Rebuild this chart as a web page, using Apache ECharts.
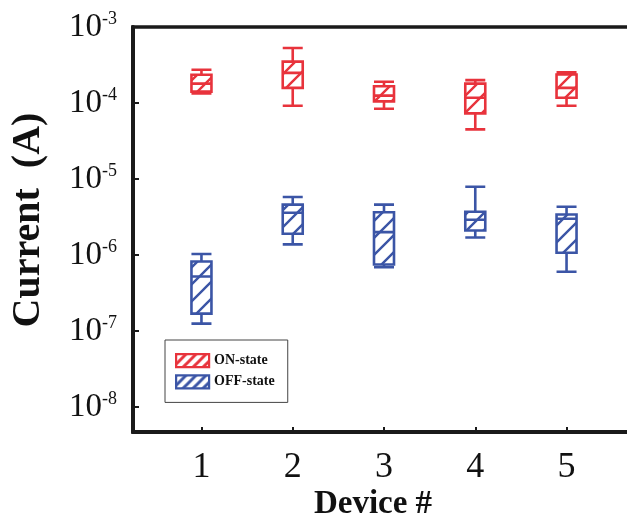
<!DOCTYPE html>
<html><head><meta charset="utf-8">
<script src="https://cdn.jsdelivr.net/npm/echarts@6/dist/echarts.min.js"></script>
<style>html,body{margin:0;padding:0;background:#fff;}#c{width:627px;height:521px;}</style>
</head><body><div id="c"></div>
<script>
// ---- data ----
const devices   = [1, 2, 3, 4, 5];
const onMin     = [1.33e-4, 9.2e-5, 8.4e-5, 4.5e-5, 9.2e-5];
const onQ1      = [1.41e-4, 1.58e-4, 1.05e-4, 7.3e-5, 1.17e-4];
const onMedian  = [1.80e-4, 2.49e-4, 1.25e-4, 1.17e-4, 1.58e-4];
const onQ3      = [2.35e-4, 3.50e-4, 1.66e-4, 1.80e-4, 2.37e-4];
const onMax     = [2.74e-4, 5.30e-4, 1.90e-4, 2.00e-4, 2.54e-4];
const offMin    = [1.25e-7, 1.38e-6, 6.9e-7, 1.7e-6, 6.0e-7];
const offQ1     = [1.69e-7, 1.90e-6, 7.5e-7, 2.1e-6, 1.07e-6];
const offMedian = [5.2e-7, 3.6e-6, 2.0e-6, 2.9e-6, 3.0e-6];
const offQ3     = [8.2e-7, 4.6e-6, 3.65e-6, 3.7e-6, 3.4e-6];
const offMax    = [1.03e-6, 5.8e-6, 4.6e-6, 7.9e-6, 4.3e-6];
const seriesNames = ['ON-state', 'OFF-state'];
const xName = 'Device #';
const yName = 'Current  (A)';

const RED = '#e8333c', BLUE = '#3b55a6', INK = '#1a1a1a';
const SERIF = '"Liberation Serif", "Times New Roman", serif';

function hatch(color, s, w) {
  const c = document.createElement('canvas');
  c.width = s; c.height = s;
  const g = c.getContext('2d');
  g.fillStyle = '#fff'; g.fillRect(0, 0, s, s);
  g.strokeStyle = color; g.lineWidth = w; g.lineCap = 'square';
  g.beginPath();
  g.moveTo(-2, s + 2); g.lineTo(s + 2, -2);
  g.moveTo(-2, 2); g.lineTo(2, -2);
  g.moveTo(s - 2, s + 2); g.lineTo(s + 2, s - 2);
  g.stroke();
  return { image: c, repeat: 'repeat' };
}

const rows = (mn, q1, md, q3, mx) => devices.map((d, i) => [d, mn[i], q1[i], md[i], q3[i], mx[i]]);

const chart = echarts.init(document.getElementById('c'), null, { renderer: 'canvas' });
const xCommon = { type: 'value', min: 0.25, max: 5.75, gridIndex: 0 };
chart.setOption({
  animation: false,
  backgroundColor: '#fff',
  grid: { left: 133, top: 27, right: -8, bottom: 89, show: true, borderColor: INK, borderWidth: 3.5, backgroundColor: 'transparent', outerBoundsMode: 'none', containLabel: false },
  legend: {
    orient: 'vertical', left: 165, top: 340,
    padding: [13, 13, 13, 10], itemGap: 6,
    itemWidth: 33, itemHeight: 13, icon: 'rect',
    borderColor: '#444', borderWidth: 1, backgroundColor: '#fff',
    textStyle: { fontFamily: SERIF, fontWeight: 'bold', fontSize: 14, color: '#111' },
    data: [
      { name: seriesNames[0], icon: 'rect', itemStyle: { color: hatch(RED, 10, 3), borderColor: RED, borderWidth: 2.2 } },
      { name: seriesNames[1], icon: 'rect', itemStyle: { color: hatch(BLUE, 10, 3), borderColor: BLUE, borderWidth: 2.2 } }
    ]
  },
  xAxis: [
    Object.assign({}, xCommon, {
      name: xName, nameLocation: 'middle', nameGap: 56, nameMoveOverlap: false,
      nameTextStyle: { fontFamily: SERIF, fontWeight: 'bold', fontSize: 33, color: '#111', padding: [0, 22, 0, 0] },
      axisLine: { show: true, lineStyle: { color: INK, width: 4 } },
      axisTick: { show: true, inside: true, length: 5, lineStyle: { color: INK, width: 2 } },
      axisLabel: {
        margin: 18, fontFamily: SERIF, fontSize: 36, color: '#111',
        formatter: v => (Math.abs(v - Math.round(v)) < 1e-6 ? String(Math.round(v)) : '')
      },
      splitLine: { show: false }
    }),
    Object.assign({}, xCommon, { show: false, splitLine: { show: false } })
  ],
  yAxis: {
    type: 'log', logBase: 10, min: Math.pow(10, -8.33), max: 1e-3,
    name: yName, nameLocation: 'middle', nameGap: 84, nameRotate: 90, nameMoveOverlap: false,
    nameTextStyle: { fontFamily: SERIF, fontWeight: 'bold', fontSize: 40, color: '#111', padding: [0, 0, 0, 19] },
    axisLine: { show: true, lineStyle: { color: INK, width: 4 } },
    axisTick: { show: true, inside: true, length: 6, lineStyle: { color: INK, width: 2 } },
    minorTick: { show: false },
    splitLine: { show: false },
    axisLabel: {
      margin: 16, fontFamily: SERIF, color: '#111',
      formatter: v => {
        const e = Math.log10(v), r = Math.round(e);
        if (Math.abs(e - r) > 1e-6) return '';
        return '{b|10}{s|' + r + '}';
      },
      rich: {
        b: { fontFamily: SERIF, fontSize: 33, color: '#111' },
        s: { fontFamily: SERIF, fontSize: 18, color: '#111', verticalAlign: 'top' }
      }
    }
  },
  series: [
    {
      name: seriesNames[0], type: 'boxplot', xAxisIndex: 0, yAxisIndex: 0,
      boxWidth: [20, 20],
      itemStyle: { color: hatch(RED, 17, 2.4), borderColor: RED, borderWidth: 2.6 },
      emphasis: { disabled: true },
      data: rows(onMin, onQ1, onMedian, onQ3, onMax)
    },
    {
      name: seriesNames[1], type: 'boxplot', xAxisIndex: 1, yAxisIndex: 0,
      boxWidth: [20, 20],
      itemStyle: { color: hatch(BLUE, 17, 2.4), borderColor: BLUE, borderWidth: 2.6 },
      emphasis: { disabled: true },
      data: rows(offMin, offQ1, offMedian, offQ3, offMax)
    }
  ]
});
</script></body></html>
